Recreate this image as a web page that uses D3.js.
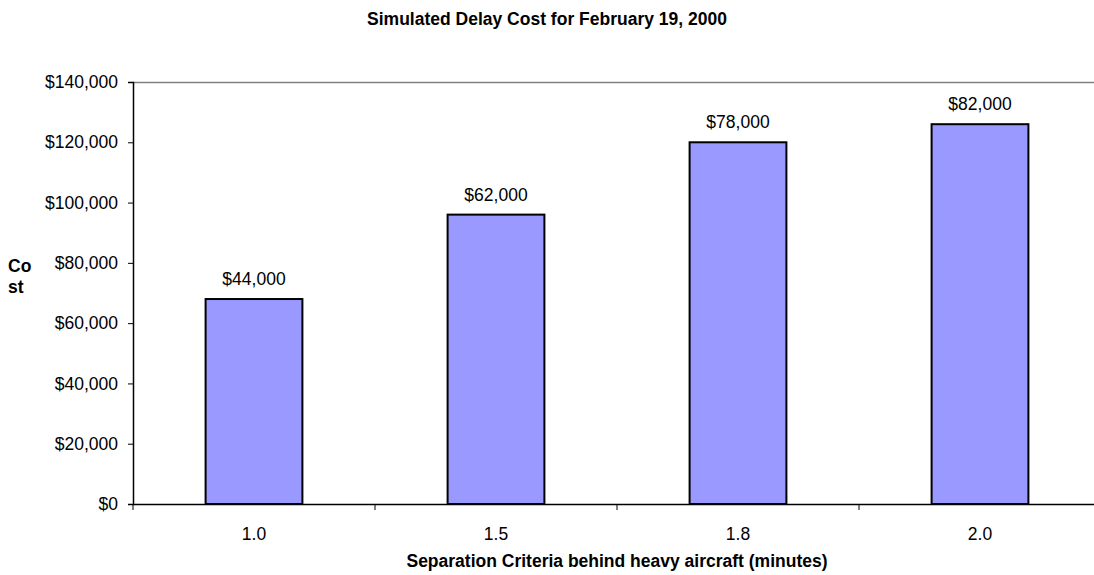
<!DOCTYPE html>
<html>
<head>
<meta charset="utf-8">
<script src="https://cdn.jsdelivr.net/npm/d3@7"></script>
<style>
  html, body { margin: 0; padding: 0; background: #fff; }
  svg text { font-family: "Liberation Sans", Arial, sans-serif; fill: #000; }
</style>
</head>
<body>
<svg id="chart" width="1094" height="575"></svg>
<script>
const categories = ["1.0", "1.5", "1.8", "2.0"];
const values = [68000, 96000, 120000, 126000];
const dataLabels = ["$44,000", "$62,000", "$78,000", "$82,000"];
const yTicks = [0, 20000, 40000, 60000, 80000, 100000, 120000, 140000];
const title = "Simulated Delay Cost for February 19, 2000";
const xTitle = "Separation Criteria behind heavy aircraft (minutes)";
const yTitleLines = ["Co", "st"];

const svg = d3.select("#chart");
const pLeft = 133, pRight = 1101, pTop = 82, pBottom = 504;

const x = d3.scaleBand().domain(categories).range([pLeft, pRight]).paddingInner(0.6).paddingOuter(0.3);
const y = d3.scaleLinear().domain([0, 140000]).range([pBottom, pTop]);
const fmt = v => "$" + d3.format(",")(v);

// plot border (top / right) in gray
svg.append("line").attr("x1", pLeft).attr("x2", pRight).attr("y1", pTop + 0.5).attr("y2", pTop + 0.5)
  .attr("stroke", "#808080").attr("stroke-width", 1.5);
svg.append("line").attr("x1", pRight - 0.5).attr("x2", pRight - 0.5).attr("y1", pTop).attr("y2", pBottom)
  .attr("stroke", "#808080").attr("stroke-width", 1.5);

// bars
svg.selectAll("rect.bar").data(values).enter().append("rect")
  .attr("class", "bar")
  .attr("x", (d, i) => x(categories[i]))
  .attr("y", d => y(d))
  .attr("width", x.bandwidth())
  .attr("height", d => pBottom - y(d))
  .attr("fill", "#9999FF")
  .attr("stroke", "#000")
  .attr("stroke-width", 2);

// data labels
svg.selectAll("text.dl").data(values).enter().append("text")
  .attr("class", "dl")
  .attr("x", (d, i) => x(categories[i]) + x.bandwidth() / 2)
  .attr("y", d => y(d) - 14)
  .attr("text-anchor", "middle")
  .attr("font-size", "17.5px")
  .text((d, i) => dataLabels[i]);

// y axis
const yAxis = d3.axisLeft(y).tickValues(yTicks).tickFormat(fmt).tickSize(5).tickPadding(10);
const gy = svg.append("g").attr("transform", `translate(${pLeft},0)`).call(yAxis);
gy.select(".domain").attr("stroke", "#000").attr("stroke-width", 1.5);
gy.selectAll(".tick line").attr("stroke", "#000").attr("stroke-width", 1);
gy.selectAll(".tick text").attr("font-size", "17.5px").attr("font-family", "Liberation Sans, Arial, sans-serif").attr("fill", "#000");

// x axis with ticks at category boundaries
const xAxis = d3.axisBottom(x).tickSize(0).tickPadding(24);
const gx = svg.append("g").attr("transform", `translate(0,${pBottom})`).call(xAxis);
gx.select(".domain").attr("stroke", "#000").attr("stroke-width", 1.5);
gx.selectAll(".tick text").attr("font-size", "17.5px").attr("font-family", "Liberation Sans, Arial, sans-serif").attr("fill", "#000");
const boundaries = d3.range(categories.length + 1).map(i => pLeft + i * (pRight - pLeft) / categories.length);
svg.selectAll("line.xt").data(boundaries).enter().append("line")
  .attr("class", "xt")
  .attr("x1", d => d).attr("x2", d => d)
  .attr("y1", pBottom).attr("y2", pBottom + 6)
  .attr("stroke", "#000").attr("stroke-width", 1);

// titles
svg.append("text").attr("x", 547).attr("y", 25).attr("text-anchor", "middle")
  .attr("font-size", "17.5px").attr("font-weight", "bold").text(title);
svg.append("text").attr("x", 617).attr("y", 567).attr("text-anchor", "middle")
  .attr("font-size", "17.5px").attr("font-weight", "bold").text(xTitle);
svg.selectAll("text.yt").data(yTitleLines).enter().append("text")
  .attr("class", "yt")
  .attr("x", 8).attr("y", (d, i) => 272 + i * 21)
  .attr("font-size", "17.5px").attr("font-weight", "bold").text(d => d);
</script>
</body>
</html>
